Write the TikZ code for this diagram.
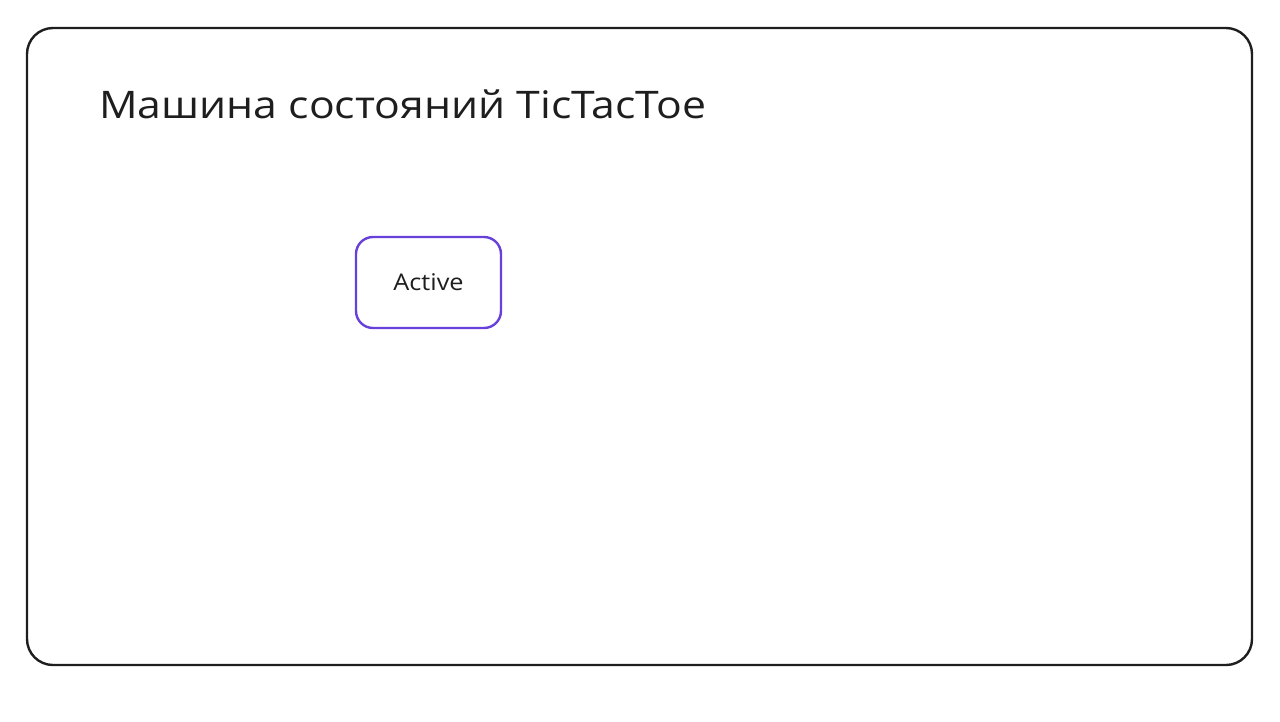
\documentclass[tikz,border=0pt]{standalone}
\usepackage{fontspec}
\setmainfont{Open Sans}
\definecolor{ink}{HTML}{1E1E1E}
\definecolor{violet}{HTML}{6741D9}
\begin{document}
\begin{tikzpicture}[x=1pt,y=-1pt,
  frame/.style={draw=ink,line width=2.4pt,rounded corners=26pt},
  statebox/.style={draw=violet,line width=2.4pt,rounded corners=17pt,fill=white,
    minimum width=145pt,minimum height=91pt,inner sep=0pt,
    font=\fontsize{23pt}{27pt}\selectfont,text=ink},
  titletext/.style={anchor=west,inner sep=0pt,font=\fontsize{38pt}{44pt}\selectfont,text=ink}]
\useasboundingbox (0,0) rectangle (1280,721);
\draw[frame] (27,28) rectangle (1252,665);
\node[titletext] (title) at (99,104) {\scalebox{1.125}[1]{Машина состояний TicTacToe}};
\node[statebox] (active) at (428.5,282.5) {\scalebox{1.1}[1]{Active}};
\end{tikzpicture}
\end{document}
